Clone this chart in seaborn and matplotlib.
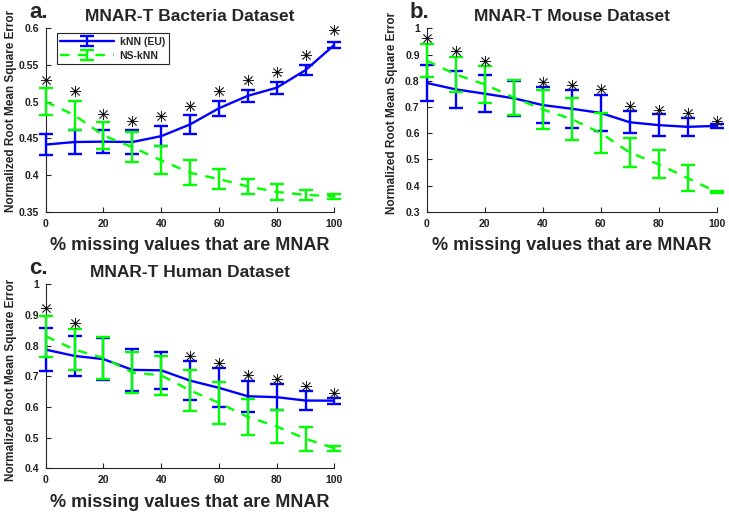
import numpy as np
import seaborn as sns
import matplotlib.pyplot as plt
from matplotlib.legend_handler import HandlerTuple
from matplotlib.ticker import FuncFormatter

# --- data ---
pct = [0, 10, 20, 30, 40, 50, 60, 70, 80, 90, 100]

# a. Bacteria
eu_a = [0.4415, 0.445, 0.4455, 0.445, 0.453, 0.469, 0.491, 0.508, 0.519, 0.543, 0.5775]
eu_a_err = [0.0145, 0.017, 0.0155, 0.016, 0.014, 0.013, 0.010, 0.008, 0.008, 0.007, 0.0045]
ns_a = [0.500, 0.4815, 0.454, 0.438, 0.420, 0.403, 0.3945, 0.3845, 0.377, 0.373, 0.371]
ns_a_err = [0.018, 0.0195, 0.018, 0.020, 0.019, 0.017, 0.0135, 0.0105, 0.011, 0.007, 0.003]
sig_a = [0.530, 0.515, 0.483, 0.473, 0.480, 0.494, 0.514, 0.529, 0.540, 0.564, 0.598]

# b. Mouse
eu_b = [0.7915, 0.767, 0.7505, 0.733, 0.707, 0.693, 0.677, 0.6415, 0.6305, 0.624, 0.6275]
eu_b_err = [0.0685, 0.070, 0.0715, 0.066, 0.070, 0.072, 0.068, 0.0425, 0.0415, 0.035, 0.0065]
ns_b = [0.8765, 0.824, 0.786, 0.736, 0.6905, 0.6535, 0.6005, 0.526, 0.481, 0.4285, 0.375]
ns_b_err = [0.0635, 0.068, 0.070, 0.067, 0.0745, 0.0795, 0.0775, 0.054, 0.054, 0.0495, 0.005]
sig_b = [0.962, 0.913, 0.876, np.nan, 0.796, 0.784, 0.767, 0.703, 0.688, 0.676, 0.647]

# c. Human
eu_c = [0.787, 0.7665, 0.756, 0.721, 0.7195, 0.686, 0.6625, 0.635, 0.632, 0.621, 0.6205]
eu_c_err = [0.070, 0.0655, 0.0685, 0.068, 0.0605, 0.064, 0.0635, 0.050, 0.042, 0.031, 0.0095]
ns_c = [0.831, 0.787, 0.760, 0.7125, 0.703, 0.654, 0.6135, 0.5675, 0.5365, 0.4965, 0.465]
ns_c_err = [0.067, 0.067, 0.0685, 0.0675, 0.064, 0.067, 0.0685, 0.0585, 0.0525, 0.0395, 0.008]
sig_c = [0.922, 0.873, np.nan, np.nan, np.nan, 0.766, 0.742, 0.704, 0.690, 0.668, 0.645]

sns.set_style("ticks")
plt.rcParams['font.family'] = ['Liberation Sans', 'DejaVu Sans']

fig = plt.figure(figsize=(7.29, 5.13), dpi=100)
ax_a = fig.add_axes([0.0627, 0.5873, 0.396, 0.3575])
ax_b = fig.add_axes([0.5853, 0.5873, 0.3978, 0.3575])
ax_c = fig.add_axes([0.0627, 0.0871, 0.396, 0.3587])

BLUE = (0, 0, 1)
GREEN = (0, 1, 0)
GREY = (0.15, 0.15, 0.15)


def draw_panel(ax, eu, eu_err, ns, ns_err, sig, ylim, yticks, title, letter, ylab_y):
    # kNN (EU)
    sns.lineplot(x=pct, y=eu, ax=ax, color=BLUE, lw=1.7, zorder=3)
    l_eu = ax.lines[-1]
    e_eu = ax.errorbar(pct, eu, yerr=eu_err, fmt='none', ecolor=BLUE,
                       elinewidth=1.7, capsize=5, capthick=1.7, zorder=3)
    # NS-kNN
    sns.lineplot(x=pct, y=ns, ax=ax, color=GREEN, lw=1.7, zorder=4)
    l_ns = ax.lines[-1]
    l_ns.set_dashes((4, 3.5))
    e_ns = ax.errorbar(pct, ns, yerr=ns_err, fmt='none', ecolor=GREEN,
                       elinewidth=1.7, capsize=5, capthick=1.7, zorder=4)
    for c in (e_eu, e_ns):
        for art in list(c.lines[1]) + list(c.lines[2]):
            art.set_clip_on(False)
    # significance asterisks
    ax.plot(pct, sig, linestyle='none', marker=(8, 2, 0), color='#222222',
            ms=8, mew=0.6, zorder=5, clip_on=False)
    ax.plot(pct, sig, linestyle='none', marker='s', color='k',
            ms=1.6, mew=0, zorder=6, clip_on=False)

    ax.set_xlim(0, 100)
    ax.set_ylim(*ylim)
    ax.set_xticks([0, 20, 40, 60, 80, 100])
    ax.set_yticks(yticks)
    ax.yaxis.set_major_formatter(FuncFormatter(lambda v, p: '%g' % round(v, 3)))
    sns.despine(ax=ax)
    for s in ('left', 'bottom'):
        ax.spines[s].set_color(GREY)
        ax.spines[s].set_linewidth(0.8)
    ax.tick_params(direction='in', length=3.5, width=0.8, color=GREY,
                   labelsize=7.5, pad=5)
    for lab in ax.get_xticklabels() + ax.get_yticklabels():
        lab.set_fontweight('bold')
        lab.set_color('#202020')

    ax.set_title(title, fontsize=12.5, fontweight='bold', pad=5)
    ax.set_xlabel('% missing values that are MNAR', fontsize=13, fontweight='bold',
                  labelpad=6)
    ax.set_ylabel('Normalized Root Mean Square Error', fontsize=8.5, fontweight='bold')
    ax.yaxis.set_label_coords(-0.10, ylab_y)
    pos = ax.get_position()
    fig.text(pos.x0 - 0.023, pos.y1 + 0.020, letter, fontsize=16, fontweight='bold',
             ha='left', va='baseline')
    return (l_eu, e_eu), (l_ns, e_ns)


h_eu, h_ns = draw_panel(ax_a, eu_a, eu_a_err, ns_a, ns_a_err, sig_a, (0.35, 0.6),
                        [0.35, 0.4, 0.45, 0.5, 0.55, 0.6], 'MNAR-T Bacteria Dataset', 'a.', 0.55)
draw_panel(ax_b, eu_b, eu_b_err, ns_b, ns_b_err, sig_b, (0.3, 1.0),
           [0.3, 0.4, 0.5, 0.6, 0.7, 0.8, 0.9, 1.0], 'MNAR-T Mouse Dataset', 'b.', 0.54)
draw_panel(ax_c, eu_c, eu_c_err, ns_c, ns_c_err, sig_c, (0.4, 1.0),
           [0.4, 0.5, 0.6, 0.7, 0.8, 0.9, 1.0], 'MNAR-T Human Dataset', 'c.', 0.48)

leg = ax_a.legend([h_eu, h_ns], ['kNN (EU)', 'NS-kNN'],
                  handler_map={tuple: HandlerTuple(ndivide=1)},
                  loc='upper left', bbox_to_anchor=(0.038, 0.973), borderaxespad=0,
                  fancybox=False, framealpha=1, edgecolor=GREY, handlelength=5.2,
                  labelspacing=0.35, borderpad=0.35, handletextpad=0.5,
                  prop={'size': 7.5, 'weight': 'bold'})
leg.get_frame().set_linewidth(0.8)

fig.savefig('out.png', dpi=100)
